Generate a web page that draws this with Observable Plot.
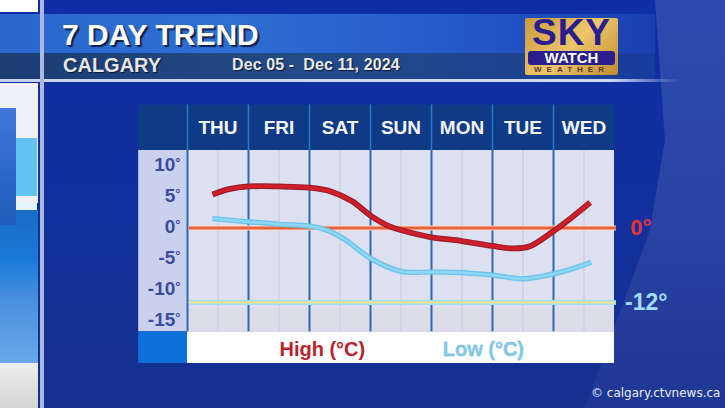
<!DOCTYPE html>
<html><head><meta charset="utf-8">
<script src="https://cdn.jsdelivr.net/npm/d3@7"></script>
<script src="https://cdn.jsdelivr.net/npm/@observablehq/plot@0.6"></script>
<style>
html,body{margin:0;padding:0;width:725px;height:408px;overflow:hidden;background:#12309a}
#stage{position:relative;width:725px;height:408px;overflow:hidden;font-family:"Liberation Sans",sans-serif}
#stage div{position:absolute}
#bg{inset:0;background:linear-gradient(180deg,#0f2ea6 0%,#10309c 50%,#17308e 100%)}
#rightglow{left:0;top:0;width:725px;height:408px;background:linear-gradient(180deg,#2d4ab0,#2a44a4 50%,#1f3794);clip-path:polygon(655px 0,665px 140px,650px 230px,585px 408px,725px 408px,725px 0)}
#leftA{left:0;top:0;width:38px;height:12px;background:#fff}
#leftBar{left:40px;top:0;width:4px;height:408px;background:#a9b9e2}
#leftB{left:0;top:83px;width:38px;height:120px;background:#eef0f6}
#leftC{left:16px;top:138px;width:21px;height:58px;background:#64c2f2}
#leftD{left:0;top:108px;width:16px;height:117px;background:linear-gradient(180deg,#3f78d8,#1d5cb8)}
#leftW{left:16px;top:202px;width:21px;height:8px;background:#e4f4fb}
#leftE{left:0;top:225px;width:38px;height:138px;background:linear-gradient(180deg,#1c6fc8 0%,#1a7ad8 25%,#4a90dc 55%,#68a8ec 100%)}
#leftE2{left:16px;top:210px;width:22px;height:15px;background:#1c6fc8}
#leftF{left:0;top:363px;width:38px;height:45px;background:linear-gradient(180deg,#eee,#d4d4d4)}
#band{left:0;top:14px;width:655px;height:39px;background:linear-gradient(90deg,#2a68cc 0%,#2e6fd4 35%,#2558c8 70%,#1a3fb0 100%)}
#sub{left:0;top:53px;width:655px;height:26px;background:linear-gradient(90deg,#1c3c72 0%,#234a86 45%,#1f4390 80%,#183ba0 100%)}
#line{left:0;top:79px;width:680px;height:3px;background:linear-gradient(90deg,#c6d2ee 0%,#cfdaf2 90%,rgba(200,210,240,0) 100%)}
#title{left:62px;top:18px;font:bold 30px/34px "Liberation Sans",sans-serif;color:#fff;text-shadow:2px 2px 1px #10204c;white-space:nowrap}
#place{left:63px;top:54px;font:bold 20px/22px "Liberation Sans",sans-serif;color:#e6e6e6;text-shadow:1px 1px 1px #0c1a38;white-space:nowrap}
#dates{left:232px;top:55px;font:bold 16px/20px "Liberation Sans",sans-serif;color:#e8e8e8;text-shadow:1px 1px 1px #0c1a38;white-space:nowrap;letter-spacing:.1px}
#logo{left:525px;top:18px;width:93px;height:57px;background:linear-gradient(135deg,#c99a3c,#eec66a 50%,#c08a30);border-radius:2px}
#sky{left:0;top:-3px;width:93px;text-align:center;font:bold 37px/36px "Liberation Sans",sans-serif;color:#2a1d8e;letter-spacing:1px}
#watch{left:3px;top:33px;width:87px;height:14px;background:#2a1d8e;border-radius:3px;text-align:center;font:bold 15px/14px "Liberation Sans",sans-serif;color:#fff}
#wx{left:0;top:47px;width:93px;text-align:center;font:bold 8px/10px "Liberation Sans",sans-serif;letter-spacing:5px;color:#5a3a30}
#credit{left:591px;top:385px;font:12px/16px "DejaVu Sans",sans-serif;color:#e8ecf6;white-space:nowrap}
#plot{left:0;top:0;width:725px;height:408px}
svg{display:block}
</style></head>
<body><div id="stage">
<div id="bg"></div><div id="rightglow"></div>
<div id="leftA"></div><div id="leftB"></div><div id="leftC"></div><div id="leftD"></div><div id="leftW"></div><div id="leftE2"></div><div id="leftE"></div><div id="leftF"></div>
<div id="band"></div><div id="sub"></div><div id="line"></div><div id="leftBar"></div>
<div id="title">7 DAY TREND</div><div id="place">CALGARY</div><div id="dates">Dec 05 -&nbsp; Dec 11, 2024</div>
<div id="logo"><div id="sky">SKY</div><div id="watch">WATCH</div><div id="wx">WEATHER</div></div>
<div id="plot"></div>
<div id="credit">© calgary.ctvnews.ca</div>
</div>
<script>
const days = ["THU","FRI","SAT","SUN","MON","TUE","WED"];
const yTicks = [10,5,0,-5,-10,-15];
// day position (0 = start of THU column), temperature in degrees C
const highDay = [0.41,0.7,1,1.5,2,2.35,2.7,3,3.3,3.6,4,4.5,5,5.35,5.6,6,6.3,6.6];
const highVal = [5.4,6.3,6.7,6.7,6.5,5.9,4.3,2.0,0.3,-0.6,-1.5,-2.1,-2.9,-3.3,-3.0,-0.5,1.7,4.1];
const lowDay = [0.41,1,1.5,2,2.3,2.6,3,3.5,4,4.5,5,5.5,6,6.3,6.62];
const lowVal = [1.5,1.0,0.6,0.3,-0.4,-2.0,-4.9,-7.0,-7.1,-7.2,-7.6,-8.2,-7.4,-6.6,-5.5];
const refZero = 0, refLow = -12;
const high = highDay.map((d,i)=>({d,v:highVal[i]}));
const low = lowDay.map((d,i)=>({d,v:lowVal[i]}));
const colEdges = d3.range(0,7);
const colMids = d3.range(0,7).map(i=>i+0.5);
const T=19.85, H=12.5, B=-16.75, L=-21.85, Lft=-0.8, R=7;
const font='"Liberation Sans",sans-serif';
const chart = Plot.plot({
  width:725,height:408,margin:0,
  style:{background:"transparent",fontFamily:font},
  x:{type:"linear",domain:[-187/61,538/61],range:[0,725],axis:null},
  y:{type:"linear",domain:[227.5/6.2,-180.5/6.2],range:[0,408],axis:null},
  marks:[
    Plot.rect([0],{x1:Lft,x2:R,y1:T,y2:H,fill:"#0e3a86"}),
    Plot.rect([0],{x1:Lft,x2:0,y1:H,y2:B,fill:"#c9d1ef"}),
    Plot.rect([0],{x1:0,x2:R,y1:H,y2:B,fill:"#dde0f1"}),
    Plot.rect([0],{x1:0,x2:R,y1:-13,y2:B,fill:"#dcdce8"}),
    Plot.rect([0],{x1:Lft,x2:0,y1:B,y2:L,fill:"#0d70da"}),
    Plot.rect([0],{x1:0,x2:R,y1:B,y2:L,fill:"#ffffff"}),
    Plot.ruleX(colMids,{y1:H,y2:B,stroke:"#ccd0de",strokeWidth:1.5}),
    Plot.ruleX(colEdges,{y1:T,y2:H,stroke:"#2a78c8",strokeWidth:1.5}),
    Plot.ruleX(colEdges,{y1:H,y2:B,stroke:"#2f68b0",strokeWidth:2}),
    Plot.ruleY([refZero],{x1:0.03,x2:7.03,stroke:"#ffd9c4",strokeWidth:5}),
    Plot.ruleY([refZero],{x1:0.03,x2:7.03,stroke:"#e8623e",strokeWidth:2.8}),
    Plot.ruleY([refLow],{x1:0.03,x2:7.03,stroke:"#a4dcf6",strokeWidth:5}),
    Plot.ruleY([refLow],{x1:0.03,x2:7.03,stroke:"#f2e58c",strokeWidth:2}),
    Plot.line(low,{x:"d",y:"v",curve:"catmull-rom",stroke:"#68c2ea",strokeWidth:5.2,strokeLinecap:"butt"}),
    Plot.line(low,{x:"d",y:"v",curve:"catmull-rom",stroke:"#8ed6f3",strokeWidth:2.8,strokeLinecap:"butt"}),
    Plot.line(high,{x:"d",y:"v",curve:"catmull-rom",stroke:"#9c1c28",strokeWidth:5.8,strokeLinecap:"butt"}),
    Plot.line(high,{x:"d",y:"v",curve:"catmull-rom",stroke:"#cf1f2a",strokeWidth:3.4,strokeLinecap:"butt"}),
    Plot.text(days,{x:(d,i)=>i+0.5,y:16.2,text:d=>d,fill:"#f4f6fb",fontSize:19,fontWeight:"bold",textAnchor:"middle"}),
    Plot.text(yTicks,{x:-0.2,y:d=>d,dy:-1,text:d=>String(d),fill:"#3c4c9e",fontSize:19,fontWeight:"bold",textAnchor:"end"}),
    Plot.text(yTicks,{x:-0.2,y:d=>d,dy:-3,text:()=>"°",fill:"#3c4c9e",fontSize:13,fontWeight:"bold",textAnchor:"start"}),
    Plot.text(["High (°C)"],{x:2.21,y:-19.6,text:d=>d,fill:"#b8232e",fontSize:20,fontWeight:"bold",textAnchor:"middle"}),
    Plot.text(["Low (°C)"],{x:4.85,y:-19.6,text:d=>d,fill:"#7fc8e8",stroke:"#5a9cbc",strokeWidth:0.3,fontSize:20,fontWeight:"bold",textAnchor:"middle"}),
    Plot.text([refZero],{x:7.43,y:d=>d,text:d=>d+"°",fill:"#e8323c",fontSize:22,fontWeight:"bold",textAnchor:"middle"}),
    Plot.text([refLow],{x:7.52,y:d=>d,text:d=>d+"°",fill:"#9fdcfa",fontSize:23,fontWeight:"bold",textAnchor:"middle"})
  ]
});
document.getElementById("plot").appendChild(chart);
</script>
</body></html>
